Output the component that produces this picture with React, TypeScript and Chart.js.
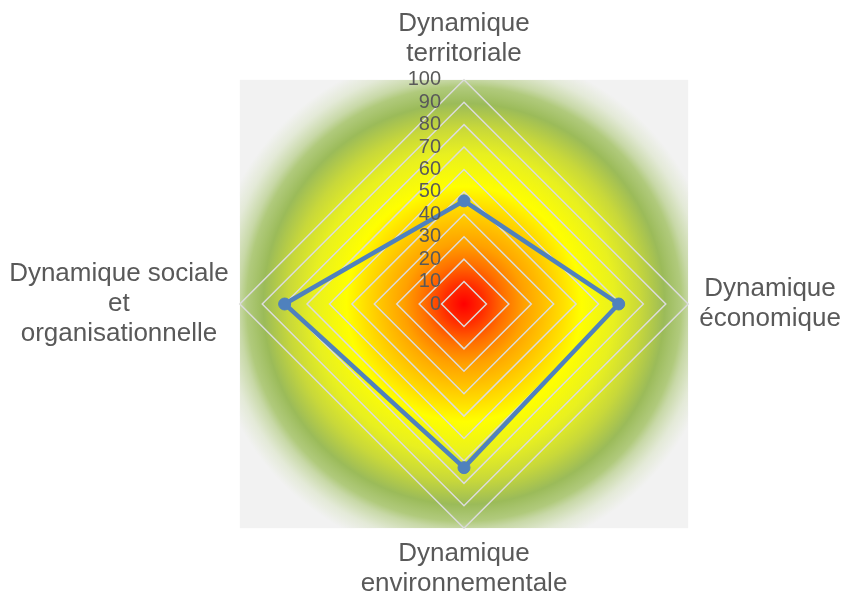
import React, { useEffect, useRef } from "react";
import { Chart, registerables } from "chart.js";

Chart.register(...registerables);

// ---- data ----
const categories: (string | string[])[] = [
  ["Dynamique", "territoriale"],
  ["Dynamique", "économique"],
  ["Dynamique", "environnementale"],
  ["Dynamique sociale", "et", "organisationnelle"],
];
const values = [46, 69, 73, 80];
const scaleMin = 0;
const scaleMax = 100;
const scaleStep = 10;

const FONT = "'Liberation Sans', Arial, sans-serif";
const TEXT = "#595959";
const LINE = "#4f81bd";

const backgroundPlugin = {
  id: "radarBackground",
  beforeDraw(chart: any) {
    const s = chart.scales.r;
    const ctx = chart.ctx as CanvasRenderingContext2D;
    const cx = s.xCenter;
    const cy = s.yCenter;
    const d = s.drawingArea;
    ctx.save();
    ctx.fillStyle = "#f2f2f2";
    ctx.fillRect(cx - d, cy - d, 2 * d, 2 * d);
    ctx.beginPath();
    ctx.rect(cx - d, cy - d, 2 * d, 2 * d);
    ctx.clip();
    const R = d * 1.14;
    const g = ctx.createRadialGradient(cx, cy, 0, cx, cy, R);
    g.addColorStop(0, "#ff0000");
    g.addColorStop(0.08, "#ff3000");
    g.addColorStop(0.157, "#ff7000");
    g.addColorStop(0.235, "#ffa000");
    g.addColorStop(0.314, "#ffc000");
    g.addColorStop(0.39, "#ffe000");
    g.addColorStop(0.46, "#ffff00");
    g.addColorStop(0.59, "#e8f020");
    g.addColorStop(0.69, "#c8d83a");
    g.addColorStop(0.785, "rgba(155,187,89,1)");
    g.addColorStop(0.85, "rgba(160,192,95,0.8)");
    g.addColorStop(0.88, "rgba(165,195,105,0.55)");
    g.addColorStop(0.94, "rgba(170,200,110,0.2)");
    g.addColorStop(1, "rgba(170,200,110,0)");
    ctx.fillStyle = g;
    ctx.fillRect(cx - d, cy - d, 2 * d, 2 * d);
    ctx.restore();
  },
  afterDatasetsDraw(chart: any) {
    const s = chart.scales.r;
    const ctx = chart.ctx as CanvasRenderingContext2D;
    ctx.save();
    ctx.font = `20px ${FONT}`;
    ctx.fillStyle = TEXT;
    ctx.textAlign = "right";
    ctx.textBaseline = "middle";
    s.ticks.forEach((t: any) => {
      const off = s.getDistanceFromCenterForValue(t.value);
      ctx.fillText(String(t.label), s.xCenter - 23, s.yCenter - off);
    });
    ctx.restore();
  },
};

export default function App() {
  const ref = useRef<HTMLCanvasElement | null>(null);
  useEffect(() => {
    if (!ref.current) return;
    const chart = new Chart(ref.current, {
      type: "radar",
      data: {
        labels: categories,
        datasets: [
          {
            data: values,
            borderColor: LINE,
            backgroundColor: LINE,
            borderWidth: 4.5,
            fill: false,
            pointRadius: 6,
            pointBackgroundColor: LINE,
            pointBorderColor: LINE,
            pointBorderWidth: 1,
          },
        ],
      },
      options: {
        responsive: false,
        animation: false,
        layout: { padding: 0 },
        plugins: { legend: { display: false }, tooltip: { enabled: false } },
        scales: {
          r: {
            min: scaleMin,
            max: scaleMax,
            beginAtZero: true,
            ticks: { display: false, stepSize: scaleStep },
            grid: { display: true, color: "#dcdcdc", lineWidth: 1.5, circular: false },
            angleLines: { display: false },
            pointLabels: {
              display: true,
              color: TEXT,
              padding: 11,
              font: { family: FONT, size: 26, lineHeight: 1.15 },
            },
            afterFit: (scale: any) => {
              const items = scale._pointLabelItems || [];
              items.forEach((it: any) => {
                it.textAlign = "center";
                it.x = (it.left + it.right) / 2;
              });
            },
          } as any,
        },
      },
      plugins: [backgroundPlugin],
    });
    return () => chart.destroy();
  }, []);
  return (
    <div style={{ position: "fixed", left: 0, top: 0, width: 841, height: 594, background: "#ffffff", overflow: "hidden" }}>
      <canvas
        ref={ref}
        width={914}
        height={590}
        style={{ display: "block", position: "absolute", left: -27, top: 9 }}
      />
    </div>
  );
}
